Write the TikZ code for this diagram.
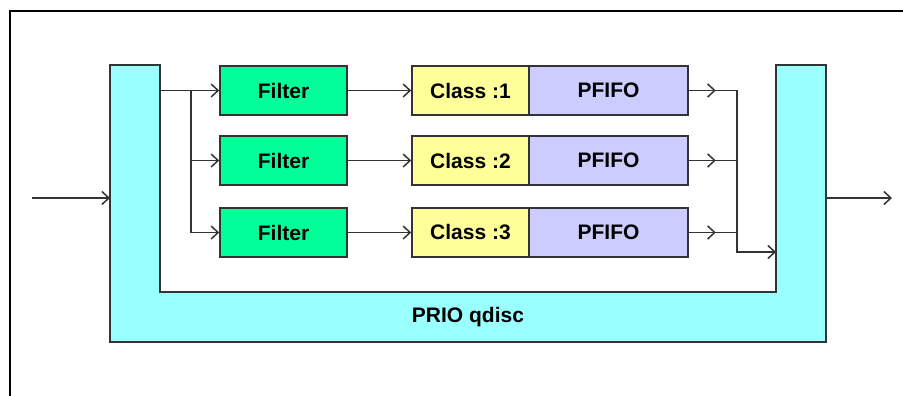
\documentclass[tikz,border=0pt]{standalone}
\usepackage{fontspec}
\setmainfont{Liberation Sans}
\usetikzlibrary{arrows.meta,decorations.markings}

\definecolor{qcyan}{HTML}{99FFFF}
\definecolor{fgreen}{HTML}{00FF99}
\definecolor{cyellow}{HTML}{FFFF99}
\definecolor{plav}{HTML}{CCCCFF}
\definecolor{edge}{HTML}{333333}

\tikzset{
  barb/.tip={Straight Barb[length=7pt, width=13pt, line width=1.5pt]},
  label/.style={font=\fontsize{21}{21}\selectfont\bfseries},
  box/.style={draw=edge, line width=1.6pt, minimum height=49pt, inner sep=0pt, label},
  filterbox/.style={box, fill=fgreen, minimum width=127pt},
  classbox/.style={box, fill=cyellow, minimum width=117pt},
  fifobox/.style={box, fill=plav, minimum width=159pt},
  wire/.style={draw=edge, line width=1.6pt},
  arr/.style={wire, -{barb}},
  midarr/.style={wire, postaction={decorate},
    decoration={markings, mark=at position 27pt with {\arrow{barb}}}},
}

\begin{document}
\begin{tikzpicture}[x=1pt, y=-1pt]
\useasboundingbox (0,0) rectangle (903,396);

% partial frame
\draw[black, line width=2.2pt] (10,396) -- (10,11) -- (903,11);

% PRIO qdisc body (U shape)
\draw[draw=edge, line width=1.6pt, fill=qcyan]
  (110,65) -- (160,65) -- (160,292) -- (776,292) -- (776,65) -- (826,65)
  -- (826,342) -- (110,342) -- cycle;
\node[label] (qlabel) at (468,317) {PRIO qdisc};

\coordinate (qin)  at (110,198);
\coordinate (qout) at (826,198);
\coordinate (src)  at (32,198);
\coordinate (dst)  at (892,198);
\coordinate (split) at (160,90.5);
\coordinate (merge) at (776,252);

% filters, classes and their queues
\foreach \i/\y in {1/90.5, 2/160.5, 3/232.5} {
  \node[filterbox] (f\i) at (283.5,\y) {Filter};
  \node[classbox]  (c\i) at (470.5,\y) {Class :\i};
  \node[fifobox]   (p\i) at (608.5,\y) {PFIFO};
  \coordinate (j\i) at (191,\y);
  \coordinate (r\i) at (737,\y);
}

% outside traffic
\draw[arr] (src) -- (qin);
\draw[arr] (qout) -- (dst);

% fan-out to the filters
\draw[arr] (split) -- (f1.west);
\draw[arr] (j1) |- (f3.west);
\draw[arr] (j2) -- (f2.west);

% filters to classes
\foreach \i in {1,2,3} {
  \draw[arr] (f\i.east) -- (c\i.west);
  \draw[midarr] (p\i.east) -- (r\i);
}

% merge back into the qdisc
\draw[wire] (r1) -- (r3);
\draw[arr] (r3) |- (merge);
\end{tikzpicture}
\end{document}
